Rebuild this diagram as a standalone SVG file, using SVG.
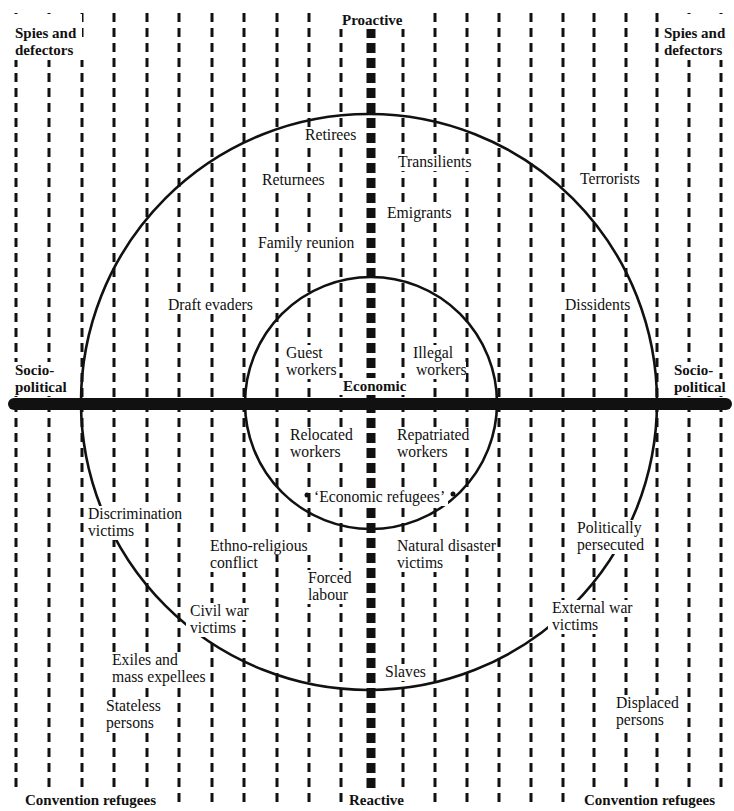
<svg xmlns="http://www.w3.org/2000/svg" width="734" height="811" viewBox="0 0 734 811">
<style>
.g{stroke:#111;stroke-width:3;stroke-dasharray:9 6;fill:none}
.c{stroke:#111;stroke-width:9;stroke-dasharray:10 5;fill:none}
.ring{stroke:#111;stroke-width:2.6;fill:none}
.ko{fill:#fff}
text{font-family:"Liberation Serif","Times New Roman",serif;font-size:15.7px;fill:#111}
.b{font-weight:bold;font-size:15px}
</style>
<rect width="734" height="811" fill="#fff"/>
<g id="grid">
<line class="g" x1="16" y1="13" x2="16" y2="808"/>
<line class="g" x1="49" y1="13" x2="49" y2="808"/>
<line class="g" x1="82" y1="13" x2="82" y2="808"/>
<line class="g" x1="114" y1="13" x2="114" y2="808"/>
<line class="g" x1="147" y1="13" x2="147" y2="808"/>
<line class="g" x1="179" y1="13" x2="179" y2="808"/>
<line class="g" x1="212" y1="13" x2="212" y2="808"/>
<line class="g" x1="244" y1="13" x2="244" y2="808"/>
<line class="g" x1="277" y1="13" x2="277" y2="808"/>
<line class="g" x1="309" y1="13" x2="309" y2="808"/>
<line class="g" x1="341" y1="13" x2="341" y2="808"/>
<line class="g" x1="403" y1="13" x2="403" y2="808"/>
<line class="g" x1="435" y1="13" x2="435" y2="808"/>
<line class="g" x1="467" y1="13" x2="467" y2="808"/>
<line class="g" x1="499" y1="13" x2="499" y2="808"/>
<line class="g" x1="531" y1="13" x2="531" y2="808"/>
<line class="g" x1="563" y1="13" x2="563" y2="808"/>
<line class="g" x1="594" y1="13" x2="594" y2="808"/>
<line class="g" x1="626" y1="13" x2="626" y2="808"/>
<line class="g" x1="657" y1="13" x2="657" y2="808"/>
<line class="g" x1="689" y1="13" x2="689" y2="808"/>
<line class="g" x1="721" y1="13" x2="721" y2="808"/>
</g>
<g id="axes">
<line class="c" x1="371" y1="13" x2="371" y2="808"/>
<line x1="14" y1="404" x2="726" y2="404" stroke="#111" stroke-width="12" stroke-linecap="round"/>
</g>
<g id="circles">
<circle class="ring" cx="369" cy="402" r="288"/>
<circle class="ring" cx="371" cy="403" r="126"/>
</g>
<g id="knockouts" class="ko">
<rect x="10" y="14" width="72" height="28"/><rect x="10" y="42" width="76" height="18"/>
<rect x="660" y="14" width="74" height="46"/>
<rect x="336" y="8" width="74" height="21"/>
<rect x="301" y="129" width="60" height="14"/>
<rect x="394" y="154" width="84" height="17"/>
<rect x="258" y="172" width="69" height="17"/>
<rect x="576" y="171" width="70" height="17"/>
<rect x="383" y="205" width="73" height="17"/>
<rect x="254" y="235" width="106" height="17"/>
<rect x="164" y="297" width="97" height="17"/>
<rect x="561" y="297" width="70" height="17"/>
<rect x="282" y="345" width="42" height="17"/><rect x="282" y="362" width="55" height="17"/>
<rect x="409" y="345" width="45" height="17"/><rect x="412" y="362" width="54" height="17"/>
<rect x="338" y="378" width="72" height="17"/>
<rect x="8" y="362" width="52" height="17"/><rect x="8" y="379" width="62" height="17"/>
<rect x="668" y="362" width="50" height="17"/><rect x="668" y="379" width="60" height="17"/>
<rect x="286" y="427" width="70" height="17"/><rect x="286" y="444" width="58" height="17"/>
<rect x="393" y="427" width="81" height="17"/><rect x="393" y="444" width="58" height="17"/>
<rect x="312" y="489" width="136" height="17"/>
<rect x="84" y="506" width="102" height="17"/><rect x="84" y="523" width="52" height="17"/>
<rect x="206" y="538" width="106" height="17"/><rect x="206" y="555" width="55" height="17"/>
<rect x="393" y="538" width="104" height="17"/><rect x="393" y="555" width="51" height="17"/>
<rect x="573" y="520" width="72" height="17"/><rect x="573" y="537" width="74" height="17"/>
<rect x="304" y="570" width="50" height="17"/><rect x="304" y="587" width="48" height="17"/>
<rect x="186" y="603" width="65" height="17"/><rect x="186" y="620" width="53" height="17"/>
<rect x="548" y="600" width="88" height="17"/><rect x="548" y="617" width="52" height="17"/>
<rect x="108" y="652" width="73" height="17"/><rect x="108" y="669" width="99" height="17"/>
<rect x="381" y="664" width="47" height="17"/>
<rect x="102" y="698" width="61" height="17"/><rect x="102" y="715" width="50" height="17"/>
<rect x="612" y="695" width="69" height="17"/><rect x="612" y="712" width="56" height="17"/>
<rect x="8" y="792" width="150" height="19"/>
<rect x="578" y="792" width="150" height="19"/>
<rect x="343" y="793" width="65" height="18"/>
</g>
<g id="labels">
<g id="spies-left"><text class="b" x="15" y="38">Spies and</text><text class="b" x="15" y="55">defectors</text></g>
<g id="spies-right"><text class="b" x="664" y="38">Spies and</text><text class="b" x="664" y="55">defectors</text></g>
<g id="proactive"><text class="b" x="342" y="25">Proactive</text></g>
<g id="retirees"><text x="305" y="140">Retirees</text></g>
<g id="transilients"><text x="398" y="167">Transilients</text></g>
<g id="returnees"><text x="262" y="185">Returnees</text></g>
<g id="terrorists"><text x="580" y="184">Terrorists</text></g>
<g id="emigrants"><text x="387" y="218">Emigrants</text></g>
<g id="family"><text x="258" y="248">Family reunion</text></g>
<g id="draft"><text x="168" y="310">Draft evaders</text></g>
<g id="dissidents"><text x="565" y="310">Dissidents</text></g>
<g id="guest"><text x="286" y="358">Guest</text><text x="286" y="375">workers</text></g>
<g id="illegal"><text x="413" y="358">Illegal</text><text x="416" y="375">workers</text></g>
<g id="economic"><text class="b" x="343" y="391">Economic</text></g>
<g id="socio-left"><text class="b" x="15" y="375">Socio-</text><text class="b" x="15" y="392">political</text></g>
<g id="socio-right"><text class="b" x="674" y="375">Socio-</text><text class="b" x="674" y="392">political</text></g>
<g id="relocated"><text x="290" y="440">Relocated</text><text x="290" y="457">workers</text></g>
<g id="repatriated"><text x="397" y="440">Repatriated</text><text x="397" y="457">workers</text></g>
<g id="econ-refugees"><circle cx="307" cy="495" r="2.5" fill="#111"/><text x="314" y="502">‘Economic refugees’</text><circle cx="453" cy="494" r="2.5" fill="#111"/></g>
<g id="discrimination"><text x="88" y="519">Discrimination</text><text x="88" y="536">victims</text></g>
<g id="ethno"><text x="210" y="551">Ethno-religious</text><text x="210" y="568">conflict</text></g>
<g id="natural"><text x="397" y="551">Natural disaster</text><text x="397" y="568">victims</text></g>
<g id="political"><text x="577" y="533">Politically</text><text x="577" y="550">persecuted</text></g>
<g id="forced"><text x="308" y="583">Forced</text><text x="308" y="600">labour</text></g>
<g id="civil"><text x="190" y="616">Civil war</text><text x="190" y="633">victims</text></g>
<g id="external"><text x="552" y="613">External war</text><text x="552" y="630">victims</text></g>
<g id="exiles"><text x="112" y="665">Exiles and</text><text x="112" y="682">mass expellees</text></g>
<g id="slaves"><text x="385" y="677">Slaves</text></g>
<g id="stateless"><text x="106" y="711">Stateless</text><text x="106" y="728">persons</text></g>
<g id="displaced"><text x="616" y="708">Displaced</text><text x="616" y="725">persons</text></g>
<g id="conv-left"><text class="b" x="25" y="805">Convention refugees</text></g>
<g id="conv-right"><text class="b" x="584" y="805">Convention refugees</text></g>
<g id="reactive"><text class="b" x="349" y="805">Reactive</text></g>
</g>
<g id="connectors"></g>
</svg>
